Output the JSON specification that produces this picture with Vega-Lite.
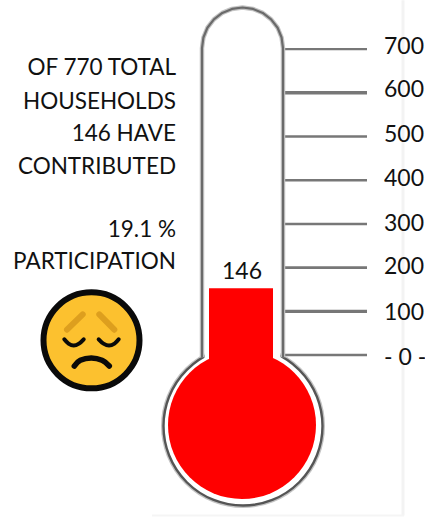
{"$schema":"https://vega.github.io/schema/vega-lite/v6.json","width":425,"height":518,"autosize":{"type":"none"},"padding":0,"background":"white","view":{"stroke":null},"config":{"text":{"font":"Lato"}},
"datasets":{
"ticks":[{"v":0,"w":2.5},{"v":100,"w":3.2},{"v":200,"w":2.8},{"v":300,"w":2.5},{"v":400,"w":2.6},{"v":500,"w":2.4},{"v":600,"w":3.4},{"v":700,"w":2.4}],
"outline":[{"i":0,"x":283,"v":-5},{"i":1,"x":283,"v":702.5},{"i":2,"x":281.6,"v":726.5},{"i":3,"x":277.6,"v":748.9},{"i":4,"x":271.1,"v":768},{"i":5,"x":262.75,"v":782.8},{"i":6,"x":253,"v":792},{"i":7,"x":242.5,"v":795.2},{"i":8,"x":232,"v":792},{"i":9,"x":222.25,"v":782.8},{"i":10,"x":213.9,"v":768},{"i":11,"x":207.4,"v":748.9},{"i":12,"x":203.4,"v":726.5},{"i":13,"x":202,"v":702.5},{"i":14,"x":202,"v":-5}],
"bulb":[{"x":243,"v":-162.5}],
"eyes":[{"id":"l","i":0,"x":64.3,"v":35.9},{"id":"l","i":1,"x":68.5,"v":26},{"id":"l","i":2,"x":73.7,"v":21.5},{"id":"l","i":3,"x":79,"v":26},{"id":"l","i":4,"x":83.7,"v":35.9},{"id":"r","i":0,"x":98.7,"v":35.9},{"id":"r","i":1,"x":103.5,"v":26},{"id":"r","i":2,"x":109,"v":21.5},{"id":"r","i":3,"x":114.5,"v":26},{"id":"r","i":4,"x":118.7,"v":35.9}]
},
"encoding":{"x":{"type":"quantitative","scale":{"domain":[0,425],"nice":false,"zero":false},"axis":null},"y":{"type":"quantitative","scale":{"domain":[-373,812.4],"nice":false,"zero":false},"axis":null}},
"layer":[
{"data":{"values":[{"x":403,"v":812,"v2":-367}]},"mark":{"type":"rule","stroke":"#f3f3f3","strokeWidth":3},"encoding":{"x":{"field":"x"},"y":{"field":"v"},"y2":{"field":"v2"}}},
{"data":{"values":[{"x":152,"x2":404,"v":-367}]},"mark":{"type":"rule","stroke":"#f5f5f5","strokeWidth":2},"encoding":{"x":{"field":"x"},"x2":{"field":"x2"},"y":{"field":"v"}}},
{"data":{"name":"ticks"},"mark":{"type":"rule","stroke":"#777777"},"encoding":{"x":{"datum":283},"x2":{"datum":367},"y":{"field":"v"},"strokeWidth":{"field":"w","type":"quantitative","scale":null,"legend":null}}},
{"data":{"name":"bulb"},"mark":{"type":"point","shape":"circle","filled":true,"fill":"white","stroke":"#c4c4c4","strokeWidth":5,"opacity":1,"size":25281},"encoding":{"x":{"field":"x"},"y":{"field":"v"}}},
{"data":{"name":"bulb"},"mark":{"type":"point","shape":"circle","filled":true,"fill":"white","stroke":"#555555","strokeWidth":2.4,"opacity":1,"size":25281},"encoding":{"x":{"field":"x"},"y":{"field":"v"}}},
{"data":{"values":[{"x":204.5,"x2":280.5,"v":-18,"v2":22}]},"mark":{"type":"rect","fill":"white"},"encoding":{"x":{"field":"x"},"x2":{"field":"x2"},"y":{"field":"v"},"y2":{"field":"v2"}}},
{"data":{"name":"outline"},"mark":{"type":"line","stroke":"#c4c4c4","strokeWidth":4.5,"strokeJoin":"round"},"encoding":{"x":{"field":"x"},"y":{"field":"v"},"order":{"field":"i"}}},
{"data":{"name":"outline"},"mark":{"type":"line","stroke":"#6a6a6a","strokeWidth":2.2,"strokeJoin":"round"},"encoding":{"x":{"field":"x"},"y":{"field":"v"},"order":{"field":"i"}}},
{"data":{"values":[{"x":242,"v":-160.2}]},"mark":{"type":"point","shape":"circle","filled":true,"fill":"#ff0000","opacity":1,"size":21904},"encoding":{"x":{"field":"x"},"y":{"field":"v"}}},
{"data":{"values":[{"x":209,"x2":273,"v":-20,"level":153}]},"mark":{"type":"rect","fill":"#ff0000"},"encoding":{"x":{"field":"x"},"x2":{"field":"x2"},"y":{"field":"v"},"y2":{"field":"level"}}},
{"data":{"values":[{"x":242,"v":191,"t":"146"}]},"mark":{"type":"text","fontSize":23,"align":"center","baseline":"middle","fill":"#111111"},"encoding":{"x":{"field":"x"},"y":{"field":"v"},"text":{"field":"t"}}},
{"data":{"values":[{"t":"700","pos":705},{"t":"600","pos":606},{"t":"500","pos":503},{"t":"400","pos":403},{"t":"300","pos":300},{"t":"200","pos":202},{"t":"100","pos":96},{"t":"- 0 -","pos":-6}]},"mark":{"type":"text","fontSize":23,"align":"left","baseline":"middle","fill":"#111111"},"encoding":{"x":{"datum":384},"y":{"field":"pos"},"text":{"field":"t"}}},
{"data":{"values":[{"t":"OF 770 TOTAL","v":656},{"t":"HOUSEHOLDS","v":579.5},{"t":"146 HAVE","v":506},{"t":"CONTRIBUTED","v":431},{"t":"19.1 %","v":286.6},{"t":"PARTICIPATION","v":213}]},"mark":{"type":"text","fontSize":22.5,"align":"right","baseline":"middle","fill":"#111111"},"encoding":{"x":{"datum":176},"y":{"field":"v"},"text":{"field":"t"}}},
{"data":{"values":[{"x":91.5,"v":33.6}]},"mark":{"type":"point","shape":"circle","filled":true,"fill":"#fcc12f","stroke":"#0a0a0a","strokeWidth":6,"opacity":1,"size":9216},"encoding":{"x":{"field":"x"},"y":{"field":"v"}}},
{"data":{"values":[{"id":"l","i":0,"x":67,"v":57.9},{"id":"l","i":1,"x":82.7,"v":93.1},{"id":"r","i":0,"x":99.3,"v":93.1},{"id":"r","i":1,"x":114.3,"v":57.9}]},"mark":{"type":"line","stroke":"#dd9f1e","strokeWidth":6,"strokeCap":"round"},"encoding":{"x":{"field":"x"},"y":{"field":"v"},"detail":{"field":"id"},"order":{"field":"i"}}},
{"data":{"name":"eyes"},"mark":{"type":"line","stroke":"#0a0a0a","strokeWidth":4,"strokeCap":"round","interpolate":"cardinal"},"encoding":{"x":{"field":"x"},"y":{"field":"v"},"detail":{"field":"id"},"order":{"field":"i"}}},
{"data":{"values":[{"i":0,"x":74.3,"v":-25.2},{"i":1,"x":80.3,"v":-12.1},{"i":2,"x":91.3,"v":-6.9},{"i":3,"x":102,"v":-12.1},{"i":4,"x":109.3,"v":-25.2}]},"mark":{"type":"line","stroke":"#0a0a0a","strokeWidth":5.5,"strokeCap":"round","interpolate":"cardinal"},"encoding":{"x":{"field":"x"},"y":{"field":"v"},"order":{"field":"i"}}}
]}
